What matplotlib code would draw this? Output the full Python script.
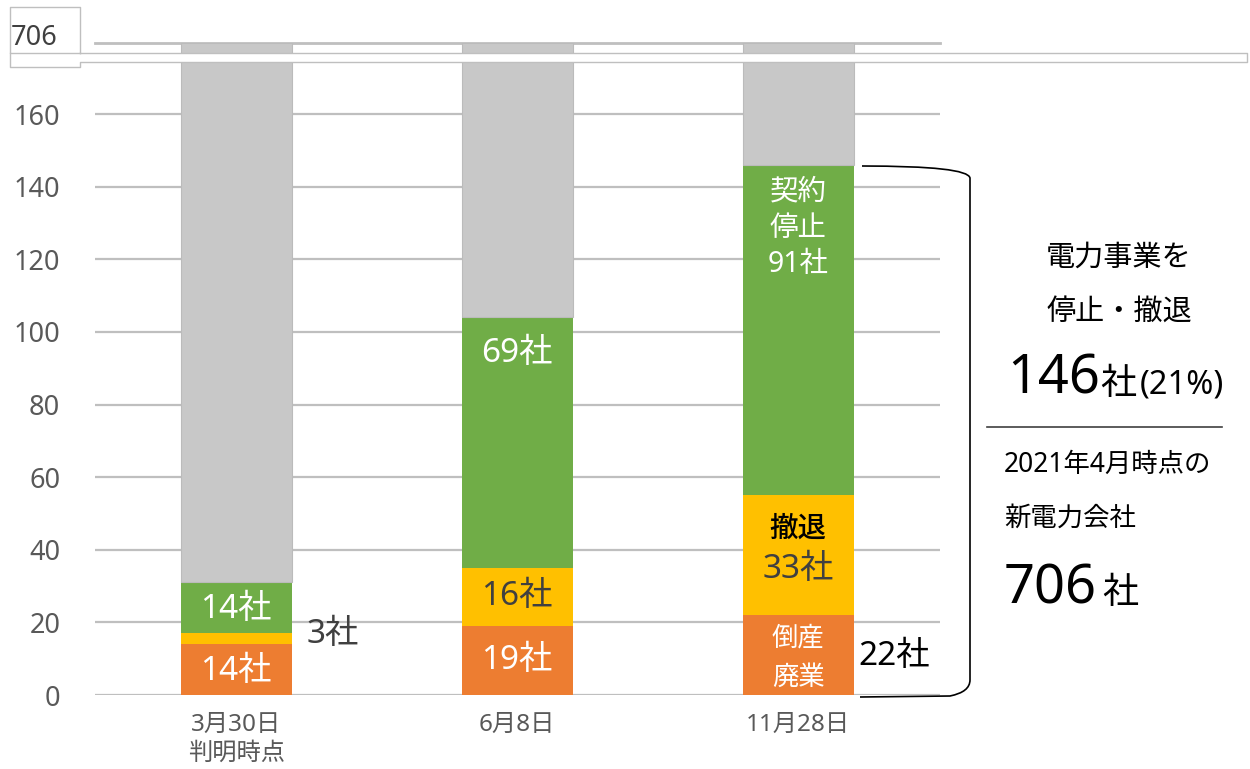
import matplotlib
matplotlib.use("Agg")
import matplotlib.pyplot as plt
from matplotlib.path import Path
from matplotlib.patches import PathPatch
from matplotlib.lines import Line2D

plt.rcParams['font.family'] = ['Noto Sans', 'Noto Sans CJK JP', 'DejaVu Sans']

# ---- data ----
categories = ["3月30日\n判明時点", "6月8日", "11月28日"]
bankrupt = [14, 19, 22]      # 倒産・廃業
withdraw = [3, 16, 33]       # 撤退
suspend = [14, 69, 91]       # 契約停止
total_companies = 706
yticks = [0, 20, 40, 60, 80, 100, 120, 140, 160]

W, H = 1250, 769
fig = plt.figure(figsize=(W / 100, H / 100), dpi=100)

def fx(x):
    return x / W

def fy(y):
    return 1 - y / H

ORANGE = '#ED7D31'
YELLOW = '#FFC000'
GREEN = '#70AD47'
GRAY = '#C8C8C8'
GRID = '#BFBFBF'
TICK = '#595959'

left_px, right_px = 95, 940
ax = fig.add_axes([fx(left_px), fy(695), fx(right_px) - fx(left_px), fy(62) - fy(695)])
axt = fig.add_axes([fx(left_px), fy(53), fx(right_px) - fx(left_px), fy(43) - fy(53)])

x = list(range(len(categories)))
width = 0.395
rest = [total_companies - a - b - c for a, b, c in zip(bankrupt, withdraw, suspend)]
b2 = [a + b for a, b in zip(bankrupt, withdraw)]
b3 = [a + b + c for a, b, c in zip(bankrupt, withdraw, suspend)]

for a in (ax, axt):
    a.bar(x, bankrupt, width, color=ORANGE, zorder=3)
    a.bar(x, withdraw, width, bottom=bankrupt, color=YELLOW, zorder=3)
    a.bar(x, suspend, width, bottom=b2, color=GREEN, zorder=3)
    a.bar(x, rest, width, bottom=b3, color=GRAY, edgecolor='#BBBBBB', linewidth=0.8, zorder=3)
    a.set_xlim(-0.502, 2.505)
    for s in a.spines.values():
        s.set_visible(False)

ax.set_ylim(0, (695 - 62) / 3.631)
ax.set_yticks(yticks)
ax.set_yticklabels([str(v) for v in yticks], fontsize=19.5, color=TICK)
ax.tick_params(axis='y', length=0, pad=25)
for v in yticks:
    ax.axhline(v, color=GRID, lw=1.6, zorder=1)
ax.set_xticks(x)
ax.set_xticklabels(categories, fontsize=17.5, color=TICK, linespacing=1.25)
ax.tick_params(axis='x', length=0, pad=13)

axt.set_ylim(total_companies - 10 / 3.631, total_companies)
axt.set_yticks([])
axt.set_xticks([])
axt.axhline(total_companies, color=GRID, lw=2, zorder=1, clip_on=False)
axt.patch.set_alpha(0)

# ---- break band and 706 box ----
def fline(xs, ys, **kw):
    fig.add_artist(Line2D([fx(v) for v in xs], [fy(v) for v in ys], transform=fig.transFigure, **kw))

fline([80, 10, 10, 80, 80], [53, 53, 7, 7, 53], color=GRID, lw=1)
fline([80, 1247, 1247, 80, 80, 10, 10], [53, 53, 62, 62, 67, 67, 53], color=GRID, lw=1)
fig.text(fx(11), fy(38), str(total_companies), fontsize=19.5, color='#404040', ha='left', va='center')

# ---- bar labels ----
def lab(i, y, s, color='white', size=24, **kw):
    ax.text(i, y, s, ha='center', va='center', fontsize=size, color=color, zorder=5, **kw)

lab(0, bankrupt[0] / 2 - 0.5, f"{bankrupt[0]}社")
lab(0, b2[0] + suspend[0] / 2 - 0.5, f"{suspend[0]}社")
ax.text(0.25, b2[0] - withdraw[0] / 2 + 1.2, f"{withdraw[0]}社", ha='left', va='center', fontsize=24, color='#404040', zorder=5)

lab(1, bankrupt[1] / 2, f"{bankrupt[1]}社")
lab(1, bankrupt[1] + withdraw[1] / 2, f"{withdraw[1]}社", color='#404040')
lab(1, b3[1] - 10, f"{suspend[1]}社")

lab(2, bankrupt[2] / 2 - 0.8, "倒産\n廃業", size=19, linespacing=1.55)
ax.text(2.215, bankrupt[2] / 2 - 0.5, f"{bankrupt[2]}社", ha='left', va='center', fontsize=24, color='black', zorder=5)
lab(2, bankrupt[2] + withdraw[2] * 0.72, "撤退", color='black', size=20.5, fontweight='medium')
lab(2, bankrupt[2] + withdraw[2] * 0.38, f"{withdraw[2]}社", color='#404040')
lab(2, b3[2] - 17.4, "契約\n停止\n91社", size=20.5, linespacing=1.33)

# ---- bracket ----
px = lambda X, Y: (fx(X), fy(Y))
verts = [px(862, 166), px(968, 166), px(970, 178), px(970, 680), px(970, 692), px(950, 696), px(860, 697)]
codes = [Path.MOVETO, Path.CURVE3, Path.CURVE3, Path.LINETO, Path.CURVE3, Path.CURVE3, Path.LINETO]
fig.add_artist(PathPatch(Path(verts, codes), transform=fig.transFigure, fill=False, edgecolor='black', lw=1.2))

# ---- right side text ----
fig.text(fx(1119), fy(258), "電力事業を", fontsize=21, ha='center', va='center', color='black')
fig.text(fx(1119), fy(312), "停止・撤退", fontsize=21, ha='center', va='center', color='black')
fig.text(fx(1007), fy(394), "146", fontsize=39, ha='left', va='baseline', color='black')
fig.text(fx(1100), fy(394), "社", fontsize=26, ha='left', va='baseline', color='black')
fig.text(fx(1140), fy(394), "(21%)", fontsize=23.5, ha='left', va='baseline', color='black')
fline([987, 1222], [427, 427], color='#404040', lw=1.2)
fig.text(fx(1004), fy(465), "2021年4月時点の", fontsize=19, ha='left', va='center', color='black')
fig.text(fx(1004), fy(519), "新電力会社", fontsize=19, ha='left', va='center', color='black')
fig.text(fx(1004), fy(603), "706", fontsize=39, ha='left', va='baseline', color='black')
fig.text(fx(1102), fy(603), "社", fontsize=26, ha='left', va='baseline', color='black')

fig.savefig("out.png", dpi=100)
